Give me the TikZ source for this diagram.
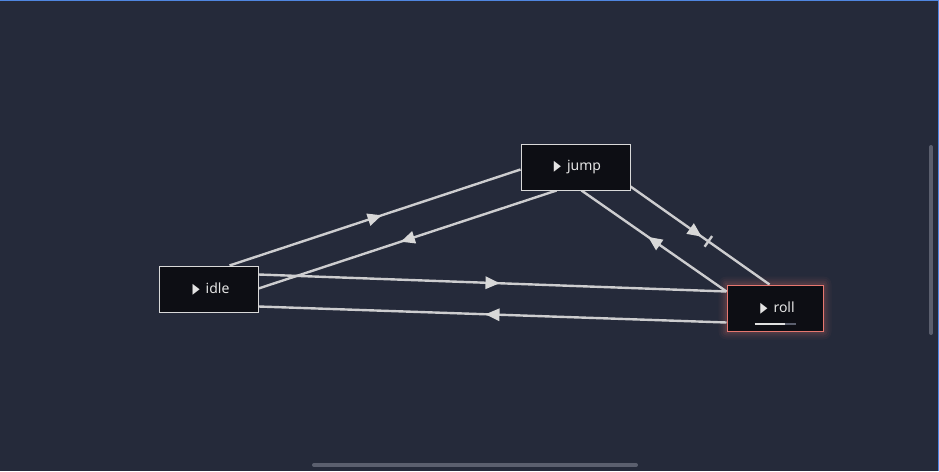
\documentclass[tikz,border=0pt]{standalone}
\usepackage{fontspec}
\setmainfont{Noto Sans}
\newfontfamily\dejavu{DejaVu Sans}
\usetikzlibrary{calc,decorations.markings,backgrounds}
\definecolor{bgc}{HTML}{252A3A}
\definecolor{nodefill}{HTML}{0D0E14}
\definecolor{edgec}{HTML}{CDCDCF}
\definecolor{tipc}{HTML}{D8D8D8}
\definecolor{rollborder}{HTML}{E8776F}
\definecolor{bluec}{HTML}{4F86E0}
\definecolor{scrollc}{HTML}{5B5F6E}
\definecolor{textc}{HTML}{E4E4E4}
\newcommand{\playicon}{\raisebox{0.3pt}{\scalebox{0.85}[1.3]{\dejavu\fontsize{11}{11}\selectfont ▶}}\hspace{6pt}}
\tikzset{
  statebox/.style={draw=#1, line width=1pt, fill=nodefill, minimum height=46pt,
    text=textc, font=\fontsize{14}{16}\selectfont, inner sep=0pt},
  edge/.style={draw=edgec, line width=2.4pt},
  midtip/.style={postaction={decorate, decoration={markings,
    mark=at position #1 with {\fill[tipc] (-7pt,-6.5pt) -- (7pt,0pt) -- (-7pt,6.5pt) -- cycle;}}}},
  midbar/.style={postaction={decorate, decoration={markings,
    mark=at position #1 with {\draw[edgec, line width=2.4pt] (0pt,-6.5pt) -- (0pt,6.5pt);}}}},
}
\begin{document}
\begin{tikzpicture}[x=1pt,y=-1pt]
\useasboundingbox (0,0) rectangle (939,471);
% nodes
\node[statebox=white!85!black, minimum width=99pt] (idle) at (208.5,289) {\hspace*{5pt}\playicon idle};
\node[statebox=white!85!black, minimum width=109pt] (jump) at (575.5,167) {\hspace*{4pt}\playicon jump};
\node[statebox=rollborder, minimum width=96pt] (roll) at (775,308) {\hspace*{5pt}\playicon roll};
% progress bar in roll
\coordinate (pb1) at ($(roll.south west)+(28,-8)$);
\coordinate (pb2) at ($(roll.south west)+(58,-8)$);
\coordinate (pb3) at ($(roll.south west)+(69,-8)$);
\draw[scrollc, line width=2pt] (pb2) -- (pb3);
\draw[white!88!black, line width=2pt] (pb1) -- (pb2);
\begin{pgfonlayer}{background}
\fill[bgc] (0,0) rectangle (939,471);
% glow around roll
\foreach \g/\o in {8/0.04,6/0.05,4/0.07,2/0.09}{
  \fill[rollborder, opacity=\o, rounded corners=\g pt] ($(roll.north west)+(-\g,-\g)$) rectangle ($(roll.south east)+(\g,\g)$);
}
% edges
\coordinate (e1a) at ($(idle.north west)+(71,0)$);
\coordinate (e1b) at ($(jump.north west)+(0,26)$);
\coordinate (e2a) at ($(jump.south west)+(36,0)$);
\coordinate (e2b) at ($(idle.north east)+(0,23)$);
\coordinate (e3a) at ($(idle.north east)+(0,9)$);
\coordinate (e3b) at ($(roll.north west)+(0,7)$);
\coordinate (e4a) at ($(roll.north west)+(0,38)$);
\coordinate (e4b) at ($(idle.north east)+(0,41)$);
\coordinate (e5a) at ($(jump.north east)+(0,43)$);
\coordinate (e5b) at ($(roll.north west)+(43,0)$);
\coordinate (e6a) at ($(roll.north west)+(0,7)$);
\coordinate (e6b) at ($(jump.south west)+(61,0)$);
\path[edge, midtip=0.5] (e1a) -- (e1b);
\path[edge, midtip=0.5] (e2a) -- (e2b);
\path[edge, midtip=0.5] (e3a) -- (e3b);
\path[edge, midtip=0.5] (e4a) -- (e4b);
\path[edge, midtip=0.47, midbar=0.56] (e5a) -- (e5b);
\path[edge, midtip=0.5] (e6a) -- (e6b);
\end{pgfonlayer}
% scrollbars and window border
\draw[scrollc, line width=4pt, line cap=round] (931,147) -- (931,333);
\draw[scrollc, line width=4pt, line cap=round] (314,465) -- (636,465);
\fill[bluec] (0,0) rectangle (939,1.2);
\fill[bluec] (937.8,0) rectangle (939,471);
\end{tikzpicture}
\end{document}
